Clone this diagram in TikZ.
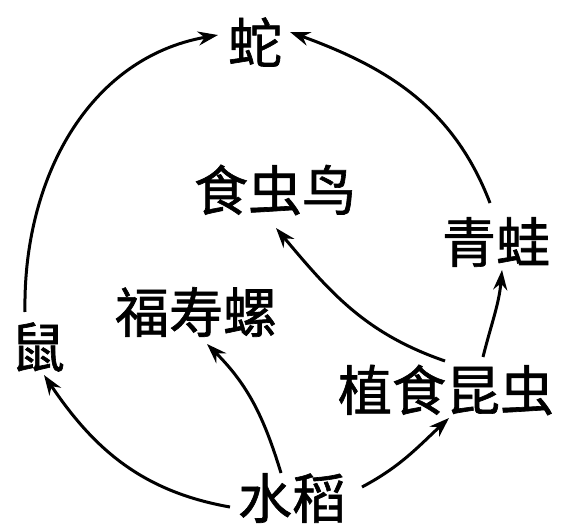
\documentclass[tikz,border=0pt]{standalone}
\usepackage{fontspec}
\newfontfamily\cjk[FakeBold=1.2]{Noto Sans CJK SC}
\usetikzlibrary{arrows.meta}
\begin{document}
\begin{tikzpicture}[x=1pt,y=1pt,
  lbl/.style={inner sep=0pt,font=\cjk\fontsize{54}{60}\selectfont},
  arr/.style={line width=3pt,-{Stealth[length=20pt,width=14pt]}}]
\useasboundingbox (0,0) rectangle (577,530);
\node[lbl] (she)  at (255,488) {蛇};
\node[lbl] (niao) at (275,340) {食虫鸟};
\node[lbl] (wa)   at (496,288) {青蛙};
\node[lbl] (luo)  at (196,218) {福寿螺};
\node[lbl] (shu)  at (38,183)  {鼠};
\node[lbl] (kun)  at (446,140) {植食昆虫};
\node[lbl] (dao)  at (292,32)  {水稻};
% connector end points
\coordinate (shuT) at (25,218);
\coordinate (sheL) at (218,495);
\coordinate (waT)  at (490,327);
\coordinate (sheR) at (290,498);
\coordinate (daoL) at (230,23);
\coordinate (shuB) at (44,155);
\coordinate (kunT) at (483,173);
\coordinate (waB)  at (502,260);
\coordinate (daoR) at (362,43);
\coordinate (kunB) at (449,112);
\coordinate (daoT) at (281,57);
\coordinate (luoB) at (207,186);
\coordinate (kunL) at (445,169);
\coordinate (niaoB) at (276,302);
\draw[arr] (shuT) to[out=91,in=190] (sheL);
\draw[arr] (waT) to[out=111,in=340] (sheR);
\draw[arr] (daoL) to[out=170,in=-56] (shuB);
\draw[arr] (kunT) to[out=76,in=265] (waB);
\draw[arr] (daoR) to[out=28,in=223] (kunB);
\draw[arr] (daoT) to[out=107,in=315] (luoB);
\draw[arr] (kunL) to[out=161,in=310] (niaoB);
\end{tikzpicture}
\end{document}
